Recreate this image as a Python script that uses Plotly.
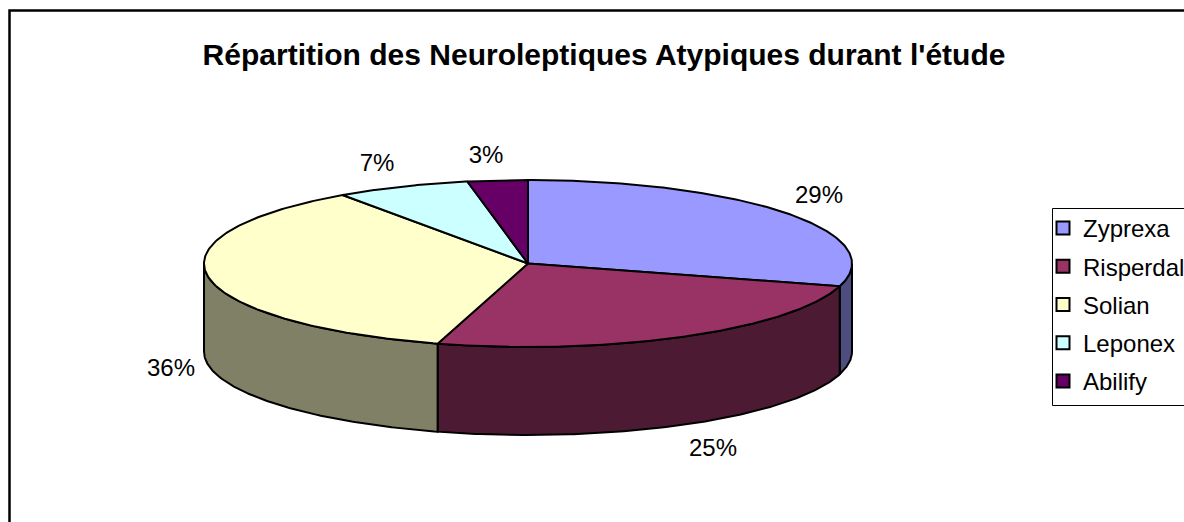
import numpy as np
import plotly.graph_objects as go

TITLE = "Répartition des Neuroleptiques Atypiques durant l'étude"
categories = ["Zyprexa", "Risperdal", "Solian", "Leponex", "Abilify"]
values = [29.4, 25.1, 35.8, 6.7, 3.0]
top_colors = ["#9999FF", "#993366", "#FFFFCC", "#CCFFFF", "#660066"]
side_colors = ["#4D4D80", "#4D1A33", "#808066", "#668080", "#330033"]

W, H = 1184, 522
CX, CY, RX, RY, DEPTH = 528, 263.5, 324, 83.5, 88
LABEL_POS = [(819, 197), (713, 450), (171, 370), (377, 165), (486, 157)]
FONT = "Liberation Sans, Arial, sans-serif"

total = sum(values)
edges = np.cumsum([0] + values) / total * 2 * np.pi


def px(a):
    return CX + RX * np.sin(a)


def py(a):
    return CY - RY * np.cos(a)


fig = go.Figure()
line = dict(color="black", width=2)

# side walls: only the front half of the cylinder (90 to 270 degrees) is visible
for i, name in enumerate(categories):
    a0, a1 = max(edges[i], np.pi / 2), min(edges[i + 1], 3 * np.pi / 2)
    if a1 <= a0:
        continue
    t = np.linspace(a0, a1, 120)
    xs = np.r_[px(t), px(t[::-1])]
    ys = np.r_[py(t), py(t[::-1]) + DEPTH]
    fig.add_trace(go.Scatter(x=np.r_[xs, xs[0]], y=np.r_[ys, ys[0]], mode="lines", fill="toself",
                             fillcolor=side_colors[i], line=line, showlegend=False, hoverinfo="skip"))

# top face wedges
for i, name in enumerate(categories):
    t = np.linspace(edges[i], edges[i + 1], 160)
    fig.add_trace(go.Scatter(x=np.r_[CX, px(t), CX], y=np.r_[CY, py(t), CY], mode="lines", fill="toself",
                             fillcolor=top_colors[i], line=line, showlegend=False, name=name,
                             hoverinfo="name"))

# percentage labels
fig.add_trace(go.Scatter(x=[p[0] for p in LABEL_POS], y=[p[1] for p in LABEL_POS], mode="text",
                         text=[f"{round(v / total * 100)}%" for v in values],
                         textposition="middle center",
                         textfont=dict(family=FONT, size=24, color="black"),
                         showlegend=False, hoverinfo="skip"))

# legend entries
for i, name in enumerate(categories):
    fig.add_trace(go.Scatter(x=[None], y=[None], mode="markers", name=name, legendgroup=name,
                             marker=dict(symbol="square", size=13, color=top_colors[i],
                                         line=dict(color="black", width=2))))

fig.update_layout(
    width=W, height=H,
    margin=dict(l=0, r=0, t=0, b=0, autoexpand=False),
    paper_bgcolor="white", plot_bgcolor="white",
    xaxis=dict(range=[0, W], visible=False, fixedrange=True),
    yaxis=dict(range=[H, 0], visible=False, fixedrange=True),
    title=dict(text=f"<b>{TITLE}</b>", x=604 / W, xanchor="center", y=1 - 54 / H, yanchor="middle",
               font=dict(family=FONT, size=30, color="black")),
    legend=dict(x=1043 / W, xanchor="left", y=1 - 206 / H, yanchor="top", traceorder="grouped",
                font=dict(family=FONT, size=24, color="black"), tracegroupgap=4,
                bgcolor="rgba(0,0,0,0)", borderwidth=0),
    shapes=[
        dict(type="rect", xref="x", yref="y", x0=9.5, y0=10.5, x1=W + 10, y1=H + 10,
             line=dict(color="black", width=2.5), layer="below"),
        dict(type="rect", xref="x", yref="y", x0=1052.5, y0=208.5, x1=W + 10, y1=405.5,
             line=dict(color="black", width=1), layer="below"),
    ],
)

fig.write_html("out.html", config=dict(displayModeBar=False),
               post_script="document.body.style.margin='0';document.body.style.overflow='hidden';")
